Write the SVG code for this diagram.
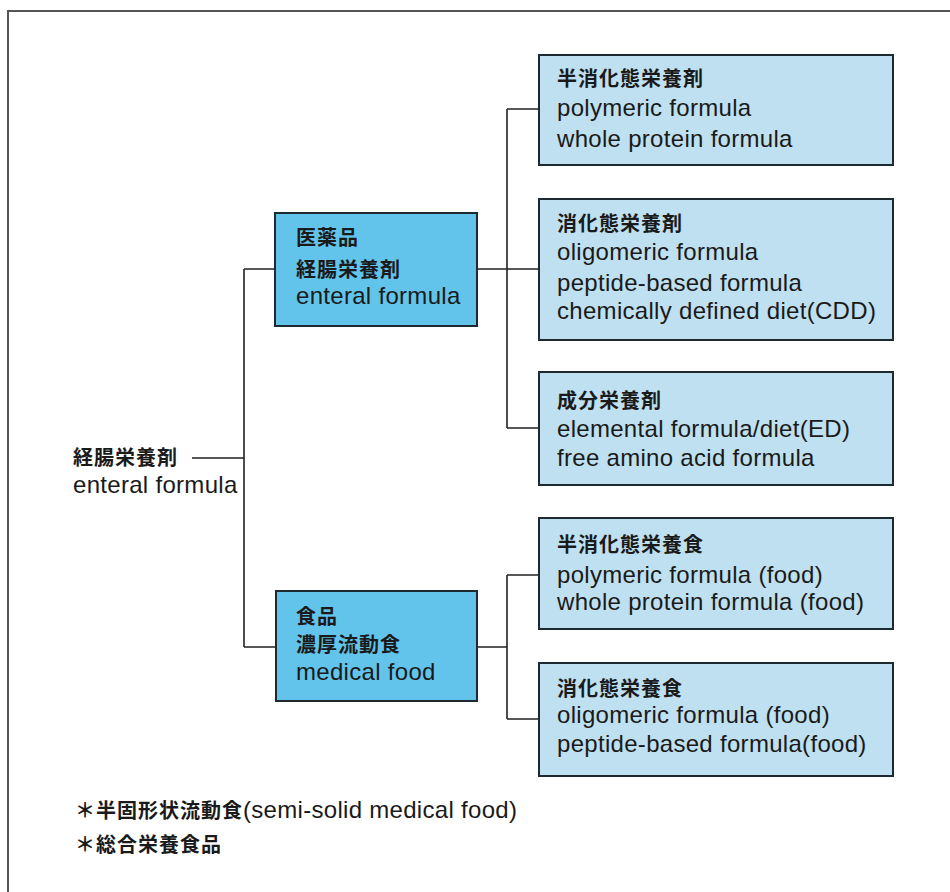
<svg xmlns="http://www.w3.org/2000/svg" width="950" height="892" viewBox="0 0 950 892">
<style>
.frame{fill:none;stroke:#555;stroke-width:2}
.main{fill:#62c4ea;stroke:#1e2a30;stroke-width:2}
.sub{fill:#bfe0f0;stroke:#1e2a30;stroke-width:2}
.ln{fill:none;stroke:#222;stroke-width:1.6}
.en{font-family:"Liberation Sans","Noto Sans CJK JP",sans-serif;font-size:24px;fill:#1a1a1a;letter-spacing:0.3px}
.jp{font-family:"Noto Sans CJK JP",sans-serif;font-size:20px;font-weight:bold;fill:#1a1a1a;letter-spacing:1px}
</style>
<rect x="0" y="0" width="950" height="892" fill="#fff"/>
<path class="frame" d="M8,900 V11 H960"/>
<g id="connectors">
<path class="ln" d="M192,458 H244 M244,269 V647 M244,269 H275 M244,647 H276"/>
<path class="ln" d="M477,269 H507 M507,109 V428 M507,109 H539 M507,269 H539 M507,428 H539"/>
<path class="ln" d="M477,647 H507 M507,575 V719 M507,575 H539 M507,719 H539"/>
</g>
<g id="root">
<text class="jp" x="73" y="465">経腸栄養剤</text>
<text class="en" x="73" y="493">enteral formula</text>
</g>
<g id="nodeA">
<rect class="main" x="275" y="213" width="202" height="113"/>
<text class="jp" x="296" y="245">医薬品</text>
<text class="jp" x="296" y="277">経腸栄養剤</text>
<text class="en" x="296" y="304">enteral formula</text>
</g>
<g id="nodeB">
<rect class="main" x="276" y="591" width="201" height="110"/>
<text class="jp" x="296" y="624">食品</text>
<text class="jp" x="296" y="652">濃厚流動食</text>
<text class="en" x="296" y="680">medical food</text>
</g>
<g id="node1">
<rect class="sub" x="539" y="55" width="354" height="110"/>
<text class="jp" x="557" y="86">半消化態栄養剤</text>
<text class="en" x="557" y="116">polymeric formula</text>
<text class="en" x="557" y="147">whole protein formula</text>
</g>
<g id="node2">
<rect class="sub" x="539" y="199" width="354" height="141"/>
<text class="jp" x="557" y="231">消化態栄養剤</text>
<text class="en" x="557" y="260">oligomeric formula</text>
<text class="en" x="557" y="291">peptide-based formula</text>
<text class="en" x="557" y="319">chemically defined diet(CDD)</text>
</g>
<g id="node3">
<rect class="sub" x="539" y="372" width="354" height="113"/>
<text class="jp" x="557" y="408">成分栄養剤</text>
<text class="en" x="557" y="437">elemental formula/diet(ED)</text>
<text class="en" x="557" y="466">free amino acid formula</text>
</g>
<g id="node4">
<rect class="sub" x="539" y="518" width="354" height="111"/>
<text class="jp" x="557" y="552">半消化態栄養食</text>
<text class="en" x="557" y="583">polymeric formula (food)</text>
<text class="en" x="557" y="610">whole protein formula (food)</text>
</g>
<g id="node5">
<rect class="sub" x="539" y="663" width="354" height="113"/>
<text class="jp" x="557" y="696">消化態栄養食</text>
<text class="en" x="557" y="723">oligomeric formula (food)</text>
<text class="en" x="557" y="752">peptide-based formula(food)</text>
</g>
<g id="notes">
<text x="75" y="818"><tspan class="jp">＊半固形状流動食</tspan><tspan class="en">(semi-solid medical food)</tspan></text>
<text class="jp" x="75" y="852">＊総合栄養食品</text>
</g>
</svg>
